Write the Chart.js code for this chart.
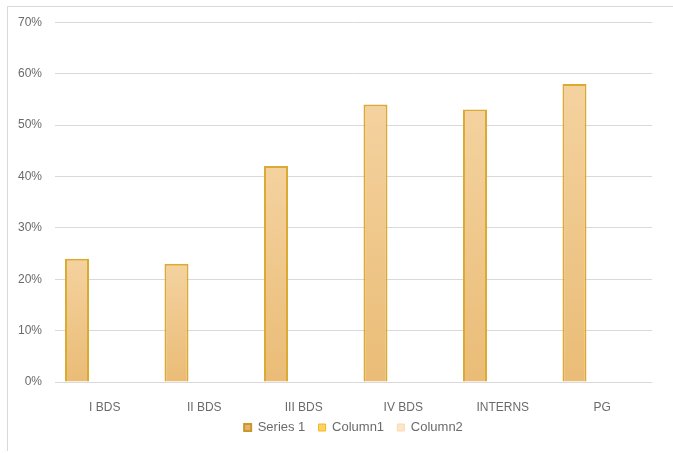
<!DOCTYPE html>
<html>
<head>
<meta charset="utf-8">
<script src="https://cdn.jsdelivr.net/npm/chart.js@4"></script>
<style>
  html, body { margin: 0; padding: 0; background: #fff; }
  #wrap { width: 673px; height: 451px; position: relative; top: 2px; }
</style>
</head>
<body>
<div id="wrap"><canvas id="myChart"></canvas></div>
<script>
// chart data
const categories = ['I BDS', 'II BDS', 'III BDS', 'IV BDS', 'INTERNS', 'PG'];
const seriesNames = ['Series 1', 'Column1', 'Column2'];
const series1 = [24, 23, 42, 54, 53, 58];
const column1 = [null, null, null, null, null, null];
const column2 = [null, null, null, null, null, null];
const yTicks = [0, 10, 20, 30, 40, 50, 60, 70];

const FONT = "'Liberation Sans Narrow', 'Liberation Sans', Arial, sans-serif";
const textColor = '#6a6a6a';
const gridColor = '#d9d9d9';

// per-bar vertical gradient, lighter at the top
function barGradient(context) {
    const chart = context.chart;
    if (!chart.chartArea || context.raw == null) return '#efc688';
    const y = chart.scales.y;
    const top = y.getPixelForValue(context.raw);
    const bottom = y.getPixelForValue(0);
    const g = chart.ctx.createLinearGradient(0, top, 0, bottom);
    g.addColorStop(0, '#f4d29f');
    g.addColorStop(1, '#eabc76');
    return g;
}

// thin grey frame like the Excel chart area border
const chartFrame = {
    id: 'chartFrame',
    beforeDraw(chart) {
        const ctx = chart.ctx;
        ctx.save();
        ctx.strokeStyle = '#d9d9d9';
        ctx.lineWidth = 1;
        ctx.strokeRect(7.5, 4.5, 720, 500);
        ctx.restore();
    }
};

new Chart(document.getElementById('myChart'), {
    type: 'bar',
    data: {
        labels: categories,
        datasets: [{
            label: seriesNames[0],
            data: series1,
            backgroundColor: barGradient,
            borderColor: '#dcaa32',
            borderWidth: 2,
            categoryPercentage: 0.837,
            barPercentage: 0.865
        }, {
            label: seriesNames[1],
            data: column1,
            backgroundColor: '#ffd266',
            borderColor: '#f2b81c',
            borderWidth: 1,
            categoryPercentage: 0.837,
            barPercentage: 0.865
        }, {
            label: seriesNames[2],
            data: column2,
            backgroundColor: '#fde6c8',
            borderColor: '#f9dab0',
            borderWidth: 1,
            categoryPercentage: 0.837,
            barPercentage: 0.865
        }]
    },
    options: {
        responsive: true,
        maintainAspectRatio: false,
        animation: false,
        layout: { padding: { left: 0, right: 21, top: 20, bottom: 9 } },
        scales: {
            x: {
                afterFit(scale) { scale.height = 33; },
                grid: { display: false, drawTicks: false },
                border: { display: false },
                ticks: { color: textColor, font: { family: FONT, size: 12 }, padding: 18 }
            },
            y: {
                min: 0,
                max: 70,
                afterFit(scale) { scale.width = 55; },
                afterBuildTicks(scale) { scale.ticks = yTicks.map(v => ({ value: v })); },
                grid: { color: gridColor, drawTicks: false },
                border: { display: false },
                ticks: {
                    color: textColor,
                    font: { family: FONT, size: 12 },
                    padding: 13,
                    callback: v => v + '%'
                }
            }
        },
        plugins: {
            legend: {
                position: 'bottom',
                fullSize: false,
                labels: {
                    color: textColor,
                    font: { family: FONT, size: 13 },
                    boxWidth: 7,
                    boxHeight: 7,
                    padding: 6,
                    generateLabels(chart) {
                        const items = Chart.defaults.plugins.legend.labels.generateLabels(chart);
                        items[0].fillStyle = '#e4b46c';
                        items[0].strokeStyle = '#c9972a';
                        // a bit more room between entries, like the Excel legend
                        items.forEach((it, i) => { if (i < items.length - 1) it.text += '  '; });
                        return items;
                    }
                }
            },
            tooltip: { enabled: true }
        }
    },
    plugins: [chartFrame]
});
</script>
</body>
</html>
